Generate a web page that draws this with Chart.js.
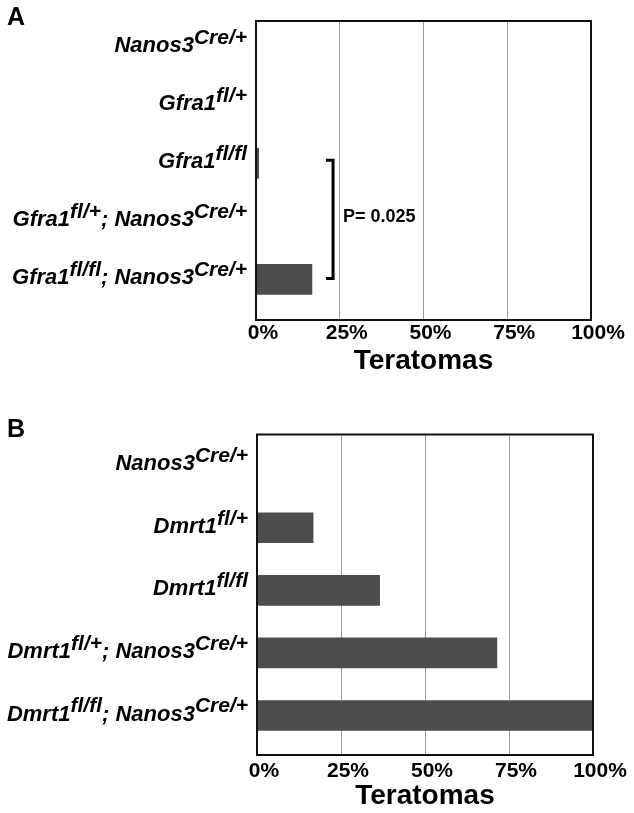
<!DOCTYPE html>
<html><head><meta charset="utf-8">
<script src="https://cdn.jsdelivr.net/npm/chart.js@4.4.1/dist/chart.umd.min.js"></script>
<style>
html,body{margin:0;padding:0;background:#fff;}
#wrap{position:relative;width:634px;height:813px;overflow:hidden;background:#fff;}
.panel{position:absolute;left:0;width:634px;}
.letter{position:absolute;left:7px;font:bold 25px "Liberation Sans",Arial,sans-serif;line-height:25px;color:#000;}
</style></head><body>
<div id="wrap">
<div class="panel" style="top:0;height:400px"><canvas id="cA" width="634" height="400"></canvas></div>
<div class="panel" style="top:400px;height:413px"><canvas id="cB" width="634" height="413"></canvas></div>
<div class="letter" style="top:4px">A</div>
<div class="letter" style="top:416px">B</div>
</div>
<script>
// ---- data ----
const categoriesA = ["Nanos3^{Cre/+}", "Gfra1^{fl/+}", "Gfra1^{fl/fl}", "Gfra1^{fl/+}; Nanos3^{Cre/+}", "Gfra1^{fl/fl}; Nanos3^{Cre/+}"];
const teratomasA = [0, 0, 0.8, 0, 16.7];
const categoriesB = ["Nanos3^{Cre/+}", "Dmrt1^{fl/+}", "Dmrt1^{fl/fl}", "Dmrt1^{fl/+}; Nanos3^{Cre/+}", "Dmrt1^{fl/fl}; Nanos3^{Cre/+}"];
const teratomasB = [0, 16.7, 36.5, 71.4, 100];
const tickValues = [0, 25, 50, 75, 100];
const tickLabels = ["0%", "25%", "50%", "75%", "100%"];
const axisTitle = "Teratomas";
const sigRowsA = [2, 4];
const sigTextA = "P= 0.025";

const FAM = '"Liberation Sans", Arial, sans-serif';

function parseRich(s){
  const parts=[]; const re=/\^\{([^}]*)\}/g; let last=0, m;
  while((m=re.exec(s))){ if(m.index>last) parts.push({t:s.slice(last,m.index),sup:false}); parts.push({t:m[1],sup:true}); last=re.lastIndex; }
  if(last<s.length) parts.push({t:s.slice(last),sup:false});
  return parts;
}

const richLabels = {
  id:'richLabels',
  afterDraw(chart, args, opts){
    const ctx=chart.ctx, y=chart.scales.y, area=chart.chartArea;
    ctx.save(); ctx.fillStyle='#000'; ctx.textBaseline='middle'; ctx.textAlign='left';
    (chart.data.labels||[]).forEach((lab,i)=>{
      const parts=parseRich(lab);
      let w=0;
      parts.forEach(p=>{ ctx.font=p.sup?opts.supFont:opts.font; p.w=ctx.measureText(p.t).width; w+=p.w; });
      let x=area.left-opts.gap-w; const yy=y.getPixelForValue(i)+opts.dy;
      parts.forEach(p=>{ ctx.font=p.sup?opts.supFont:opts.font; ctx.fillText(p.t,x,p.sup?yy-opts.raise:yy); x+=p.w; });
    });
    ctx.restore();
  }
};

const boxPlugin = {
  id:'box',
  afterDatasetsDraw(chart){
    const {left,top,right,bottom}=chart.chartArea; const ctx=chart.ctx;
    ctx.save(); ctx.strokeStyle='#111'; ctx.lineWidth=2;
    ctx.strokeRect(left,top,right-left,bottom-top); ctx.restore();
  }
};

const bracketPlugin = {
  id:'bracket',
  afterDatasetsDraw(chart, args, opts){
    if(!opts || !opts.rows) return;
    const ctx=chart.ctx, x=chart.scales.x, y=chart.scales.y;
    const xv=x.getPixelForValue(opts.xValue), xt=x.getPixelForValue(opts.tickValue);
    const y1=y.getPixelForValue(opts.rows[0])+opts.dy1, y2=y.getPixelForValue(opts.rows[1])+opts.dy2;
    ctx.save(); ctx.strokeStyle='#000'; ctx.lineWidth=3; ctx.lineJoin='miter';
    ctx.beginPath(); ctx.moveTo(xt,y1); ctx.lineTo(xv,y1); ctx.lineTo(xv,y2); ctx.lineTo(xt,y2); ctx.stroke();
    ctx.fillStyle='#000'; ctx.font='bold 18px '+FAM; ctx.textBaseline='middle'; ctx.textAlign='left';
    ctx.fillText(opts.text, xv+10, (y1+y2)/2-2);
    ctx.restore();
  }
};

function makeChart(id, cats, vals, cfg){
  return new Chart(document.getElementById(id), {
    type:'bar',
    data:{ labels:cats, datasets:[{ data: vals.map((v,i)=>({x:v,y:i})), backgroundColor:'#4d4d4d', borderWidth:0, barThickness:30 }]},
    options:{
      indexAxis:'y', responsive:false, animation:false, devicePixelRatio:1,
      layout:{ padding:cfg.padding },
      plugins:{
        legend:{display:false}, tooltip:{enabled:false},
        richLabels:{ font:'italic bold 22px '+FAM, supFont:'italic bold 21px '+FAM, gap:9, dy:-1, raise:8 },
        bracket: cfg.bracket || {}
      },
      scales:{
        x:{
          type:'linear', min:0, max:100,
          afterBuildTicks(s){ s.ticks = tickValues.map(v=>({value:v})); },
          ticks:{ callback:(v)=>tickLabels[tickValues.indexOf(v)], font:{family:FAM,size:21,weight:'bold'}, color:'#000', padding:cfg.tickPad, labelOffset:7, maxRotation:0 },
          grid:{ color:'#9a9a9a', lineWidth:1, drawTicks:false },
          border:{ display:false },
          title:{ display:true, text:axisTitle, font:{family:FAM,size:28,weight:'bold'}, color:'#000', padding:{top:0,bottom:cfg.titlePad} },
          afterFit(s){ s.height=cfg.xHeight; }
        },
        y:{ type:'linear', reverse:true, offset:false, bounds:'data', min:cfg.yMin, max:cfg.yMax, display:false,
            grid:{offset:false} }
      }
    },
    plugins:[richLabels, boxPlugin, bracketPlugin]
  });
}

makeChart('cA', categoriesA, teratomasA, {
  padding:{top:21,left:256,right:43,bottom:0}, xHeight:80, tickPad:1, titlePad:22,
  yMin:-0.453, yMax:4.699,
  bracket:{ rows:sigRowsA, xValue:23, tickValue:20.9, text:sigTextA, dy1:-3, dy2:-1 }
});
makeChart('cB', categoriesB, teratomasB, {
  padding:{top:34.5,left:257,right:41,bottom:0}, xHeight:58, tickPad:4, titlePad:0,
  yMin:-0.489, yMax:4.631
});
</script>
</body></html>
